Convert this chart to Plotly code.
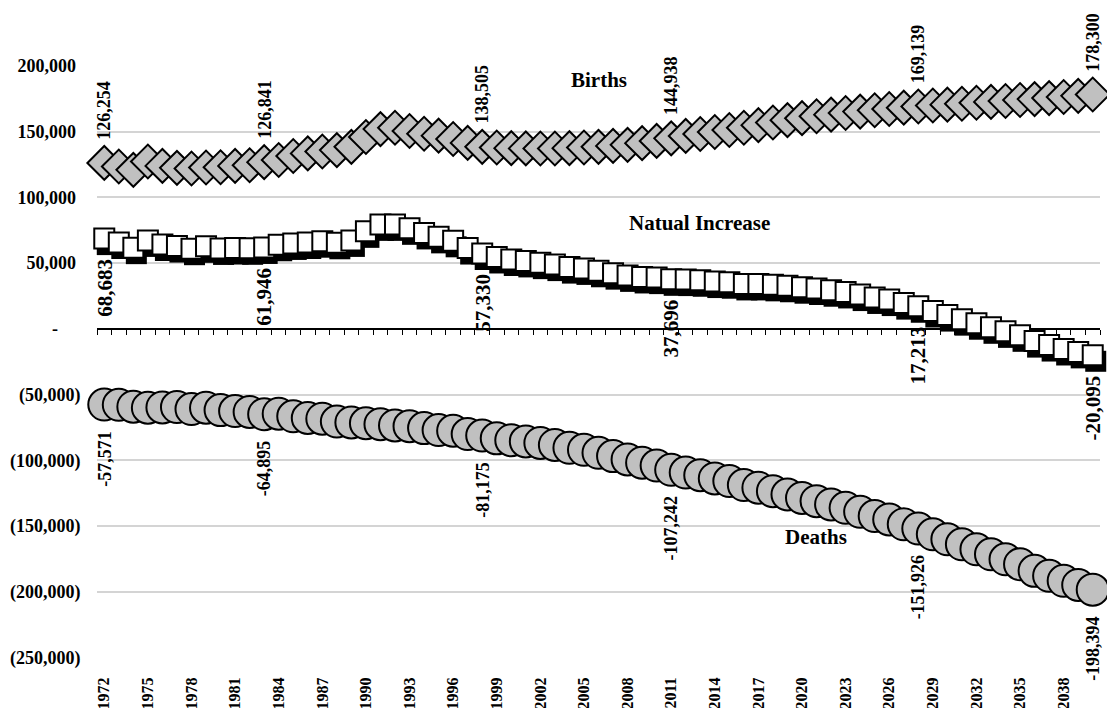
import plotly.graph_objects as go

# ---- data -------------------------------------------------------------
years = [str(y) for y in range(1972, 2041)]

births = [
    126254, 123500, 121000, 127300, 124000, 122500, 122000, 122800, 123000, 124000,   # 1972-1981
    124500, 126841, 128500, 131500, 133500, 135000, 136000, 138500, 146000, 152000,   # 1982-1991
    153000, 150500, 148500, 147000, 144500, 141500, 138505, 138000, 137500, 137300,   # 1992-2001
    137200, 137200, 137500, 138000, 138500, 139200, 140000, 141300, 143000, 144938,   # 2002-2011
    146800, 148300, 149800, 151300, 153000, 155000, 157000, 158800, 160300, 161800,   # 2012-2021
    163000, 164200, 165300, 166300, 167300, 168300, 169139, 169900, 170600, 171300,   # 2022-2031
    172000, 172700, 173400, 174100, 174800, 175600, 176400, 177300, 178300,           # 2032-2040
]

deaths = [
    -57571, -57800, -59200, -60000, -59800, -59500, -61000, -60000, -61800, -62500,
    -63200, -64895, -64500, -66500, -67800, -68300, -70500, -71200, -71800, -72500,
    -73500, -74000, -75500, -77000, -77500, -80000, -81175, -83300, -84700, -85600,
    -86800, -88300, -90500, -92000, -94300, -96800, -99300, -101800, -104000, -107242,
    -109300, -111300, -113800, -115800, -118800, -120800, -123500, -126000, -128600, -131100,
    -133600, -136100, -139200, -142400, -145000, -148700, -151926, -156300, -160100, -163900,
    -167700, -171500, -175300, -179000, -184100, -187900, -191700, -194800, -198394,
]

natural_increase = [
    68683, 65700, 61800, 67300, 64200, 63000, 61000, 62800, 61200, 61500,
    61300, 61946, 64000, 65000, 65700, 66700, 65500, 67300, 74200, 79500,
    79500, 76500, 73000, 70000, 67000, 61500, 57330, 54700, 52800, 51700,
    50400, 48900, 47000, 46000, 44200, 42400, 40700, 39500, 39000, 37696,
    37500, 37000, 36000, 35500, 34200, 34200, 33500, 32800, 31700, 30700,
    29400, 28100, 26100, 23900, 22300, 19600, 17213, 13600, 10500, 7400,
    4300, 1200, -1900, -4900, -9300, -12300, -15300, -17500, -20095,
]

label_years = ["1972", "1983", "1998", "2011", "2028", "2040"]

y_tickvals = [200000, 150000, 100000, 50000, 0, -50000, -100000, -150000, -200000, -250000]
y_ticktext = ["200,000", "150,000", "100,000", "50,000", "-",
              "(50,000)", "(100,000)", "(150,000)", "(200,000)", "(250,000)"]

# ---- layout constants -------------------------------------------------
W, H = 1107, 708
M_L, M_R, M_T, M_B = 97, 7, 66, 50
Y_MIN, Y_MAX = -250000, 200000
FONT = "Liberation Serif"
GREY = "#c0c0c0"

n = len(years)
plot_w = W - M_L - M_R
plot_h = H - M_T - M_B
x_range = [-0.5, n - 0.5]
# tiny pad so the bottom gridline is not lost at the edge of the plot
y_range = [Y_MIN - 400, Y_MAX]

# drop shadow of the square markers: a few pixels right and down
SH_DX, SH_DY = 3, 6
dx_cat = SH_DX * n / plot_w
dy_val = SH_DY * (y_range[1] - y_range[0]) / plot_h


def acct(label):
    """Accounting-style padding so positives line up with bracketed negatives."""
    if label == "-":
        return "-" + "\u00a0" * 5
    if label.startswith("("):
        return label
    return label + "\u00a0"


fig = go.Figure()

# Births (diamonds) and Deaths (circles) on the main axes
fig.add_trace(go.Scatter(
    x=years, y=births, mode="markers", name="Births",
    marker=dict(symbol="diamond", size=26, color=GREY,
                line=dict(color="black", width=2)),
    cliponaxis=False, showlegend=False,
))
fig.add_trace(go.Scatter(
    x=years, y=deaths, mode="markers", name="Deaths",
    marker=dict(symbol="circle", size=32, color=GREY,
                line=dict(color="black", width=2)),
    cliponaxis=False, showlegend=False,
))

# Natural increase shadow (offset axes) and the white squares on top
fig.add_trace(go.Scatter(
    x=years, y=natural_increase, mode="markers", xaxis="x2", yaxis="y2",
    marker=dict(symbol="square", size=21, color="black",
                line=dict(color="black", width=0)),
    cliponaxis=False, showlegend=False, hoverinfo="skip",
))
fig.add_trace(go.Scatter(
    x=years, y=natural_increase, mode="markers", xaxis="x3", yaxis="y3",
    name="Natual Increase",
    marker=dict(symbol="square", size=20, color="white",
                line=dict(color="black", width=2)),
    cliponaxis=False, showlegend=False,
))

# horizontal category axis line crossing at zero
fig.add_trace(go.Scatter(x=[], y=[], xaxis="x4", yaxis="y", showlegend=False,
                         hoverinfo="skip"))

# ---- data labels (category axes take the serial index) ----------------
label_font = dict(family=FONT, size=18, color="black", weight="bold")
annotations = []
for yr in label_years:
    i = years.index(yr)
    annotations.append(dict(
        x=i, y=births[i], xref="x", yref="y", text=f"{births[i]:,}",
        textangle=-90, showarrow=False, xanchor="center", yanchor="bottom",
        yshift=21, font=label_font,
    ))
    annotations.append(dict(
        x=i, y=natural_increase[i], xref="x", yref="y",
        text=f"{natural_increase[i]:,}",
        textangle=-90, showarrow=False, xanchor="center", yanchor="top",
        yshift=-18, font=dict(family=FONT, size=21, color="black", weight="bold"),
    ))
    annotations.append(dict(
        x=i, y=deaths[i], xref="x", yref="y", text=f"{deaths[i]:,}",
        textangle=-90, showarrow=False, xanchor="center", yanchor="top",
        yshift=-24, font=label_font,
    ))

# series names
for text, px, py in [("Births", 599, 80), ("Natual Increase", 699, 223), ("Deaths", 816, 537)]:
    annotations.append(dict(
        x=(px - M_L) / plot_w, y=(H - M_B - py) / plot_h, xref="paper", yref="paper",
        text=text, showarrow=False, xanchor="center", yanchor="middle",
        font=dict(family=FONT, size=21, color="black", weight="bold"),
    ))

hidden = dict(visible=False, showgrid=False, zeroline=False)

fig.update_layout(
    width=W, height=H,
    margin=dict(l=M_L, r=M_R, t=M_T, b=M_B, pad=0),
    paper_bgcolor="white", plot_bgcolor="white",
    font=dict(family=FONT, color="black"),
    showlegend=False,
    xaxis=dict(
        type="category", categoryorder="array", categoryarray=years,
        range=x_range, tickmode="linear", tick0=0, dtick=3,
        tickangle=-90, tickfont=dict(family=FONT, size=16, color="black", weight="bold"),
        showgrid=False, zeroline=False, showline=False, automargin=False,
        ticks="outside", ticklen=12, tickcolor="rgba(0,0,0,0)",
    ),
    yaxis=dict(
        range=y_range, tickmode="array", tickvals=y_tickvals,
        ticktext=[acct(t) for t in y_ticktext],
        tickfont=dict(family=FONT, size=18, color="black", weight="bold"),
        showgrid=True, gridcolor="#d4d4d4", gridwidth=1.5,
        zeroline=False, showline=False, automargin=False,
        ticks="outside", ticklen=12, tickcolor="rgba(0,0,0,0)",
    ),
    xaxis2=dict(type="category", categoryorder="array", categoryarray=years,
                overlaying="x", anchor="y2",
                range=[x_range[0] - dx_cat, x_range[1] - dx_cat], **hidden),
    yaxis2=dict(overlaying="y", anchor="x2",
                range=[y_range[0] + dy_val, y_range[1] + dy_val], **hidden),
    xaxis3=dict(type="category", categoryorder="array", categoryarray=years,
                overlaying="x", anchor="y3", range=x_range, **hidden),
    yaxis3=dict(overlaying="y", anchor="x3", range=y_range, **hidden),
    xaxis4=dict(
        overlaying="x", anchor="free",
        position=(0 - y_range[0]) / (y_range[1] - y_range[0]),
        range=x_range, tickmode="array",
        tickvals=[i - 0.5 for i in range(n + 1)],
        showticklabels=False, ticks="outside", ticklen=5, tickwidth=1.2,
        tickcolor="black", showline=True, linecolor="black", linewidth=1.5,
        showgrid=False, zeroline=False, layer="below traces", automargin=False,
    ),
    annotations=annotations,
)

fig.write_html("out.html")
